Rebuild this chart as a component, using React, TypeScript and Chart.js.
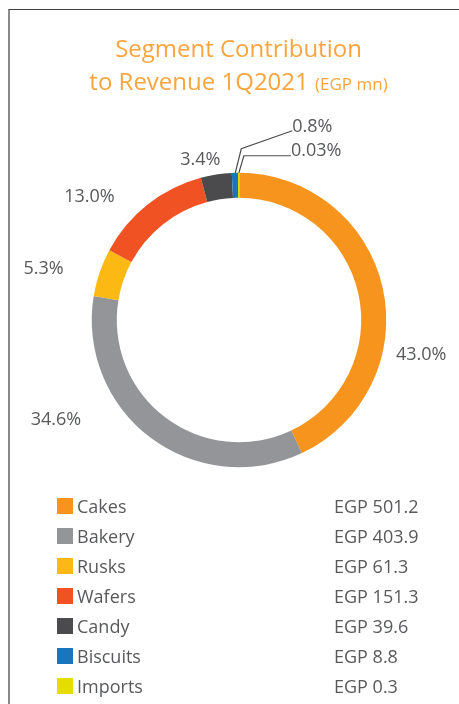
import React, { useEffect, useRef } from "react";
import { Chart, registerables } from "chart.js";

Chart.register(...registerables);

const categories = ["Cakes", "Bakery", "Rusks", "Wafers", "Candy", "Biscuits", "Imports"];
const revenue = [501.2, 403.9, 61.3, 151.3, 39.6, 8.8, 0.3];
const shareLabels = ["43.0%", "34.6%", "5.3%", "13.0%", "3.4%", "0.8%", "0.03%"];
const valueLabels = ["EGP 501.2", "EGP 403.9", "EGP 61.3", "EGP 151.3", "EGP 39.6", "EGP 8.8", "EGP 0.3"];
const colors = ["#F7941D", "#939598", "#FDB913", "#F05223", "#4B4B4D", "#1B75BC", "#E5DC00"];
const titleLine1 = "Segment Contribution";
const titleLine2 = "to Revenue 1Q2021";
const titleUnit = "(EGP mn)";

const W = 459;
const H = 704;
const FONT = '"Open Sans", sans-serif';
const GRAY_TEXT = "#58595B";
const TITLE_COLOR = "#F9A53F";

// label placement relative to each arc: angle shift (deg) and distance beyond outer radius
const labelPlacement: Record<number, { dA: number; dR: number }> = {
  0: { dA: 23.1, dR: 38 },
  1: { dA: 24.5, dR: 61 },
  2: { dA: -3.9, dR: 55 },
  3: { dA: -12.0, dR: 47 },
  4: { dA: -4.6, dR: 18 },
};
// leader-line labels: elbow offset from arc edge, end offset from elbow, text offset from end
const leaderPlacement: Record<number, { elbow: [number, number]; end: [number, number]; text: [number, number] }> = {
  5: { elbow: [6, -24], end: [51, -18], text: [0, -5] },
  6: { elbow: [5, -17], end: [47, 0], text: [0, -6] },
};

const labelsPlugin = {
  id: "sliceLabels",
  afterDraw(chart: any) {
    const ctx = chart.ctx;
    const meta = chart.getDatasetMeta(0);
    ctx.save();
    ctx.font = `18px ${FONT}`;
    ctx.fillStyle = GRAY_TEXT;
    ctx.textBaseline = "middle";
    meta.data.forEach((arc: any, i: number) => {
      const p = arc.getProps(["x", "y", "startAngle", "endAngle", "outerRadius"], true);
      const mid = (p.startAngle + p.endAngle) / 2;
      if (labelPlacement[i]) {
        const lp = labelPlacement[i];
        const a = mid + (lp.dA * Math.PI) / 180;
        const r = p.outerRadius + lp.dR;
        const tx = p.x + Math.cos(a) * r;
        const ty = p.y + Math.sin(a) * r;
        ctx.textAlign = "center";
        ctx.fillText(shareLabels[i], tx, ty + 1);
      } else if (leaderPlacement[i]) {
        const lp = leaderPlacement[i];
        const sx = p.x + Math.cos(mid) * p.outerRadius;
        const sy = p.y + Math.sin(mid) * p.outerRadius;
        const ex = sx + lp.elbow[0];
        const ey = sy + lp.elbow[1];
        const fx = ex + lp.end[0];
        const fy = ey + lp.end[1];
        ctx.strokeStyle = "#4D4D4F";
        ctx.lineWidth = 1.2;
        ctx.beginPath();
        ctx.moveTo(sx, sy);
        ctx.lineTo(ex, ey);
        ctx.lineTo(fx, fy);
        ctx.stroke();
        ctx.textAlign = "left";
        ctx.fillText(shareLabels[i], fx + lp.text[0], fy + lp.text[1] + 1);
      }
    });
    ctx.restore();
  },
};

const titlePlugin = {
  id: "customTitle",
  afterDraw(chart: any) {
    const ctx = chart.ctx;
    ctx.save();
    ctx.fillStyle = TITLE_COLOR;
    ctx.textBaseline = "alphabetic";
    ctx.font = `24px ${FONT}`;
    ctx.textAlign = "center";
    ctx.fillText(titleLine1, 238.5, 57);
    const w1 = ctx.measureText(titleLine2 + " ").width;
    ctx.font = `17px ${FONT}`;
    const w2 = ctx.measureText(titleUnit).width;
    const start = 238.5 - (w1 + w2) / 2;
    ctx.textAlign = "left";
    ctx.font = `24px ${FONT}`;
    ctx.fillText(titleLine2, start, 90);
    ctx.font = `17px ${FONT}`;
    ctx.fillText(titleUnit, start + w1, 90);
    ctx.restore();
  },
};

const legendPlugin = {
  id: "customLegend",
  afterDraw(chart: any) {
    const ctx = chart.ctx;
    ctx.save();
    ctx.font = `18px ${FONT}`;
    ctx.textBaseline = "alphabetic";
    ctx.textAlign = "left";
    categories.forEach((c, i) => {
      const cy = 506 + i * 30;
      ctx.fillStyle = colors[i];
      ctx.fillRect(57, cy - 8, 16, 16);
      ctx.fillStyle = GRAY_TEXT;
      ctx.fillText(c, 77, cy + 7);
      ctx.fillText(valueLabels[i], 334, cy + 7);
    });
    ctx.restore();
  },
};

export default function App() {
  const ref = useRef<HTMLCanvasElement | null>(null);
  useEffect(() => {
    if (!ref.current) return;
    const chart = new Chart(ref.current, {
      type: "doughnut",
      data: {
        labels: categories,
        datasets: [
          {
            data: revenue,
            backgroundColor: colors,
            borderColor: colors,
            borderWidth: [0, 0, 0, 0, 0, 0, 1.5],
            hoverOffset: 0,
          },
        ],
      },
      options: {
        responsive: false,
        animation: false,
        cutout: "83%",
        rotation: 0,
        layout: { padding: { left: 91, right: 72, top: 172, bottom: 236 } },
        plugins: {
          legend: { display: false },
          tooltip: { enabled: false },
          title: { display: false },
        },
      },
      plugins: [labelsPlugin, titlePlugin, legendPlugin],
    });
    return () => chart.destroy();
  }, []);

  return (
    <div style={{ position: "fixed", left: 0, top: 0, width: W, height: H, background: "#fff" }}>
      <canvas ref={ref} width={W} height={H} style={{ position: "absolute", left: 0, top: 0, width: W, height: H }} />
      <div
        style={{
          position: "absolute",
          left: 8,
          top: 9,
          width: W - 8,
          height: H - 9,
          borderTop: "1px solid #3f3f3f",
          borderLeft: "2px solid #8a8a8a",
          boxSizing: "border-box",
          pointerEvents: "none",
        }}
      />
    </div>
  );
}
